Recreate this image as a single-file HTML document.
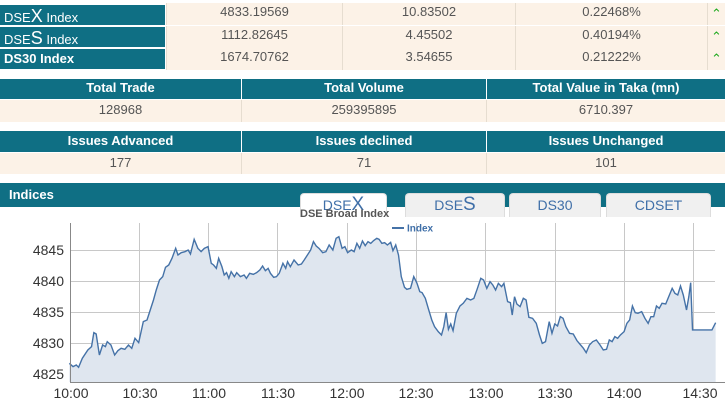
<!DOCTYPE html>
<html><head><meta charset="utf-8"><style>
body{margin:0;width:725px;height:400px;background:#fff;font-family:"Liberation Sans",sans-serif;position:relative;overflow:hidden}
.a{position:absolute;box-sizing:border-box}
.t{background:#0f6f84;color:#fff;font-weight:bold;font-size:13px}
.v{background:#fcf2e7;color:#555;font-size:13px;text-align:center;border-left:1px solid #e6ddd0}
.h{background:#0f6f84;color:#fff;font-weight:bold;font-size:13px;text-align:center;border-left:1px solid #fff}
.tab{position:absolute;top:193px;height:24px;background:#f0f0f0;border:1px solid #ddd;border-bottom:none;border-radius:4px 4px 0 0;color:#3f6fa8;font-size:14px;text-align:center;line-height:22px;box-sizing:border-box}
</style></head><body>
<div class="a t" style="left:0;top:5px;width:165px;height:20px;padding:3px 0 0 4px;font-weight:normal;line-height:17px">DSE<span style="font-size:18px">X</span> Index</div>
<div class="a t" style="left:0;top:27px;width:165px;height:20px;padding:3px 0 0 4px;font-weight:normal;line-height:17px">DSE<span style="font-size:18px">S</span> Index</div>
<div class="a t" style="left:0;top:49px;width:165px;height:20px;padding:3px 0 0 4px;line-height:14px">DS30 Index</div>
<div class="a v" style="left:166px;top:3px;width:176px;height:22px;line-height:18px">4833.19569</div>
<div class="a v" style="left:342px;top:3px;width:173px;height:22px;line-height:18px">10.83502</div>
<div class="a v" style="left:515px;top:3px;width:192px;height:22px;line-height:18px">0.22468%</div>
<div class="a v" style="left:707px;top:3px;width:18px;height:22px;color:#2a2;line-height:22px">&#8963;</div>
<div class="a v" style="left:166px;top:26px;width:176px;height:22px;line-height:18px">1112.82645</div>
<div class="a v" style="left:342px;top:26px;width:173px;height:22px;line-height:18px">4.45502</div>
<div class="a v" style="left:515px;top:26px;width:192px;height:22px;line-height:18px">0.40194%</div>
<div class="a v" style="left:707px;top:26px;width:18px;height:22px;color:#2a2;line-height:22px">&#8963;</div>
<div class="a v" style="left:166px;top:48px;width:176px;height:22px;line-height:18px">1674.70762</div>
<div class="a v" style="left:342px;top:48px;width:173px;height:22px;line-height:18px">3.54655</div>
<div class="a v" style="left:515px;top:48px;width:192px;height:22px;line-height:18px">0.21222%</div>
<div class="a v" style="left:707px;top:48px;width:18px;height:22px;color:#2a2;line-height:22px">&#8963;</div>

<div class="a h" style="left:0;top:79px;width:241px;height:20px;line-height:18px;border:none">Total Trade</div>
<div class="a h" style="left:241px;top:79px;width:245px;height:20px;line-height:18px">Total Volume</div>
<div class="a h" style="left:486px;top:79px;width:239px;height:20px;line-height:18px">Total Value in Taka (mn)</div>
<div class="a v" style="left:0;top:100px;width:241px;height:22px;line-height:20px;border:none">128968</div>
<div class="a v" style="left:241px;top:100px;width:245px;height:22px;line-height:20px">259395895</div>
<div class="a v" style="left:486px;top:100px;width:239px;height:22px;line-height:20px">6710.397</div>

<div class="a h" style="left:0;top:131px;width:241px;height:21px;line-height:19px;border:none">Issues Advanced</div>
<div class="a h" style="left:241px;top:131px;width:245px;height:21px;line-height:19px">Issues declined</div>
<div class="a h" style="left:486px;top:131px;width:239px;height:21px;line-height:19px">Issues Unchanged</div>
<div class="a v" style="left:0;top:153px;width:241px;height:21px;line-height:20px;border:none">177</div>
<div class="a v" style="left:241px;top:153px;width:245px;height:21px;line-height:20px">71</div>
<div class="a v" style="left:486px;top:153px;width:239px;height:21px;line-height:20px">101</div>

<div class="a t" style="left:0;top:183px;width:725px;height:24px;padding:4px 0 0 9px;font-size:13px">Indices</div>
<div class="tab" style="left:300px;width:87px;background:#fff">DSE<span style="font-size:19px">X</span></div>
<div class="tab" style="left:405px;width:100px">DSE<span style="font-size:19px">S</span></div>
<div class="tab" style="left:509px;width:92px">DS30</div>
<div class="tab" style="left:606px;width:105px">CDSET</div>

<svg class="a" style="left:0;top:0" width="725" height="400">
<g stroke="#c8c8c8" stroke-width="1">
<line x1="71" x2="715" y1="250.5" y2="250.5"/><line x1="71" x2="715" y1="281.5" y2="281.5"/><line x1="71" x2="715" y1="312.5" y2="312.5"/><line x1="71" x2="715" y1="343.5" y2="343.5"/><line x1="71" x2="715" y1="374.5" y2="374.5"/>
<line x1="139.5" x2="139.5" y1="223" y2="382"/><line x1="208.5" x2="208.5" y1="223" y2="382"/><line x1="277.5" x2="277.5" y1="223" y2="382"/><line x1="347.5" x2="347.5" y1="223" y2="382"/><line x1="416.5" x2="416.5" y1="223" y2="382"/><line x1="485.5" x2="485.5" y1="223" y2="382"/><line x1="555.5" x2="555.5" y1="223" y2="382"/><line x1="624.5" x2="624.5" y1="223" y2="382"/><line x1="693.5" x2="693.5" y1="223" y2="382"/>
</g>
<g transform="matrix(0.4623,0,0,0.3333,0,180)">
<polygon fill="#dfe6ef" points="150,606 150,550 158,560 165,555 170,562 178,535 190,510 198,500 203,458 208,462 215,525 222,495 228,500 232,485 240,495 248,525 255,512 262,505 270,508 278,495 285,505 292,475 300,488 310,425 318,420 325,390 332,360 338,330 345,300 352,290 358,262 365,255 372,235 380,205 385,225 392,218 400,215 407,210 412,222 420,178 428,205 435,215 442,205 450,200 457,250 462,255 468,265 473,235 480,260 485,285 490,278 495,295 500,275 507,290 512,278 520,290 528,285 533,295 540,280 548,283 555,278 562,270 568,258 574,272 580,265 585,280 592,292 598,290 604,280 612,250 618,265 622,245 628,260 636,240 645,255 652,252 658,240 665,225 672,210 678,185 684,198 690,205 698,218 705,215 712,195 720,210 727,175 733,170 740,205 746,200 752,218 760,210 766,215 772,190 778,205 784,183 790,197 796,185 802,190 808,182 815,175 820,178 826,190 832,188 838,195 845,187 850,212 856,195 862,225 868,290 875,322 880,328 888,325 895,290 902,310 908,335 913,338 920,355 927,388 934,420 940,440 948,455 955,465 960,440 965,398 970,448 975,432 980,452 987,400 995,378 1002,370 1010,355 1018,360 1025,355 1032,328 1040,295 1046,300 1053,325 1060,305 1066,315 1072,330 1078,310 1085,320 1090,310 1098,365 1104,368 1108,405 1113,350 1118,372 1125,380 1132,355 1138,360 1144,412 1152,415 1160,430 1167,465 1173,490 1180,485 1188,425 1194,460 1200,432 1206,438 1212,410 1218,415 1224,440 1232,460 1240,462 1248,482 1256,495 1262,505 1268,518 1275,495 1282,485 1290,480 1298,495 1305,510 1312,508 1318,480 1324,485 1330,470 1336,475 1342,465 1350,455 1356,430 1362,420 1368,378 1374,398 1380,400 1388,395 1395,415 1402,430 1408,410 1414,410 1420,378 1426,385 1432,370 1440,372 1448,345 1454,325 1460,340 1466,345 1472,318 1478,345 1485,390 1490,350 1494,308 1498,450 1505,450 1540,450 1548,428 1548,606"/>
<polyline fill="none" stroke="#4572a7" stroke-width="1.4" vector-effect="non-scaling-stroke" points="150,550 158,560 165,555 170,562 178,535 190,510 198,500 203,458 208,462 215,525 222,495 228,500 232,485 240,495 248,525 255,512 262,505 270,508 278,495 285,505 292,475 300,488 310,425 318,420 325,390 332,360 338,330 345,300 352,290 358,262 365,255 372,235 380,205 385,225 392,218 400,215 407,210 412,222 420,178 428,205 435,215 442,205 450,200 457,250 462,255 468,265 473,235 480,260 485,285 490,278 495,295 500,275 507,290 512,278 520,290 528,285 533,295 540,280 548,283 555,278 562,270 568,258 574,272 580,265 585,280 592,292 598,290 604,280 612,250 618,265 622,245 628,260 636,240 645,255 652,252 658,240 665,225 672,210 678,185 684,198 690,205 698,218 705,215 712,195 720,210 727,175 733,170 740,205 746,200 752,218 760,210 766,215 772,190 778,205 784,183 790,197 796,185 802,190 808,182 815,175 820,178 826,190 832,188 838,195 845,187 850,212 856,195 862,225 868,290 875,322 880,328 888,325 895,290 902,310 908,335 913,338 920,355 927,388 934,420 940,440 948,455 955,465 960,440 965,398 970,448 975,432 980,452 987,400 995,378 1002,370 1010,355 1018,360 1025,355 1032,328 1040,295 1046,300 1053,325 1060,305 1066,315 1072,330 1078,310 1085,320 1090,310 1098,365 1104,368 1108,405 1113,350 1118,372 1125,380 1132,355 1138,360 1144,412 1152,415 1160,430 1167,465 1173,490 1180,485 1188,425 1194,460 1200,432 1206,438 1212,410 1218,415 1224,440 1232,460 1240,462 1248,482 1256,495 1262,505 1268,518 1275,495 1282,485 1290,480 1298,495 1305,510 1312,508 1318,480 1324,485 1330,470 1336,475 1342,465 1350,455 1356,430 1362,420 1368,378 1374,398 1380,400 1388,395 1395,415 1402,430 1408,410 1414,410 1420,378 1426,385 1432,370 1440,372 1448,345 1454,325 1460,340 1466,345 1472,318 1478,345 1485,390 1490,350 1494,308 1498,450 1505,450 1540,450 1548,428"/>
</g>
<line x1="70.5" x2="70.5" y1="223" y2="382" stroke="#888"/>
<line x1="70" x2="725" y1="382.5" y2="382.5" stroke="#888"/>
<g font-family="Liberation Sans,sans-serif" font-size="14" fill="#333" text-anchor="end">
<text x="64" y="255">4845</text><text x="64" y="286">4840</text><text x="64" y="317">4835</text><text x="64" y="348">4830</text><text x="64" y="379">4825</text>
</g>
<g font-family="Liberation Sans,sans-serif" font-size="14" fill="#333" text-anchor="middle">
<text x="71" y="398">10:00</text><text x="140" y="398">10:30</text><text x="209" y="398">11:00</text><text x="278" y="398">11:30</text><text x="347" y="398">12:00</text><text x="416" y="398">12:30</text><text x="486" y="398">13:00</text><text x="555" y="398">13:30</text><text x="624" y="398">14:00</text><text x="700" y="398">14:30</text>
</g>
<text x="300" y="217" font-family="Liberation Sans,sans-serif" font-size="11" font-weight="bold" fill="#555">DSE Broad Index</text>
<line x1="392" x2="404" y1="228" y2="228" stroke="#4572a7" stroke-width="2"/>
<text x="407" y="231.5" font-family="Liberation Sans,sans-serif" font-size="10" font-weight="bold" fill="#3f6fa8">Index</text>
</svg>
</body></html>
